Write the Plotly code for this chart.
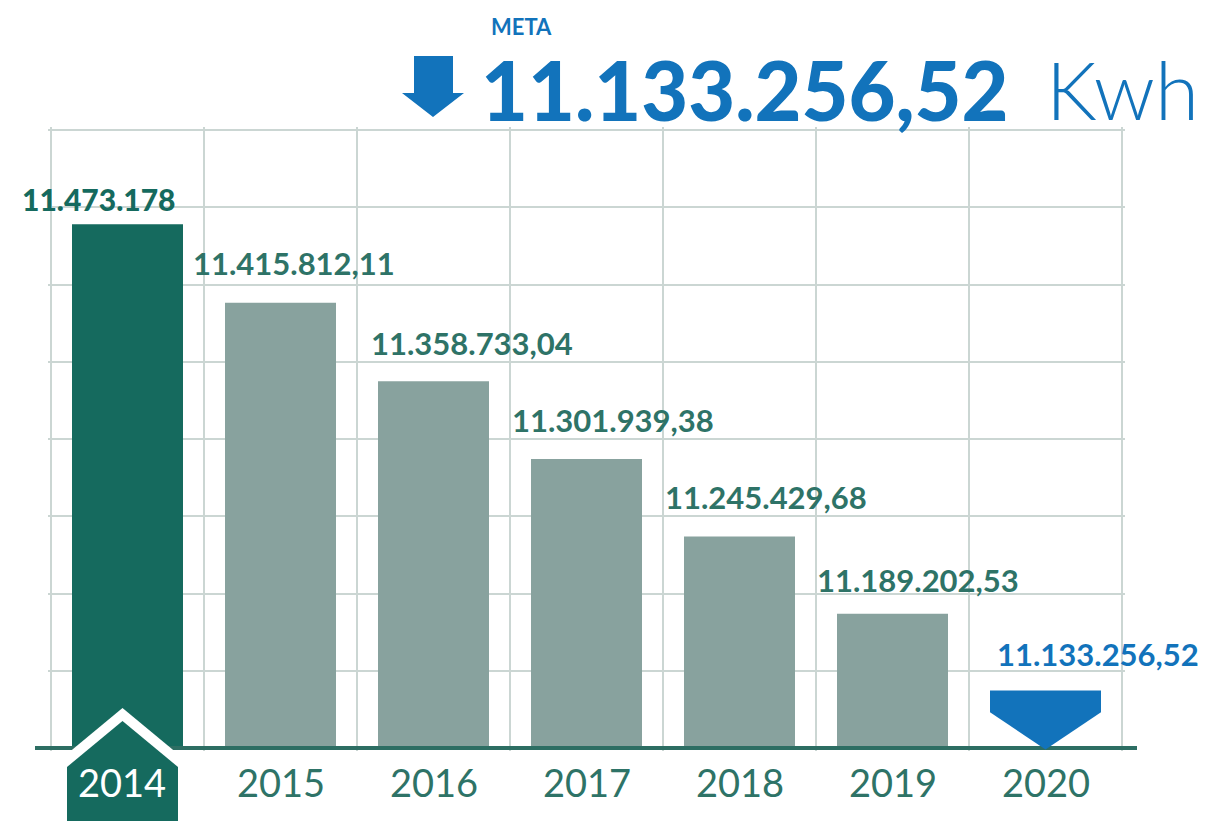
import plotly.graph_objects as go

# ---------------- data ----------------
years = ["2014", "2015", "2016", "2017", "2018", "2019", "2020"]
consumo_kwh = [11473178, 11415812.11, 11358733.04, 11301939.38,
               11245429.68, 11189202.53, 11133256.52]
meta_label = "META"
unit_label = "Kwh"

# ---------------- styles ----------------
DARK = "#156A5E"
GREY_BAR = "#88A29E"
GRID = "#CBD6D3"
BASE_LINE = "#2D6E63"
TXT = "#2E7367"
BLUE = "#1273BB"
FONT = "Lato"

W, H = 1229, 821
PAD = 3
ML, MR, MT, MB = 51 - PAD, 107 - PAD, 130 - PAD, 73 - PAD
PW, PH = W - ML - MR, H - MT - MB
Y_MIN, Y_MAX = 11091304, 11541835          # value at baseline / top gridline
U = (Y_MAX - Y_MIN) / 618                  # value per pixel
CAT_PX = (W - 51 - 107) / len(years)       # pixels per category
BAR_W = 0.7255

# label offsets (px) from bar centre to label left edge / above value
label_dx = [-108, -90, -65, -77, -77, -78, -51]
label_dy = [25, 39.5, 38, 39, 39.5, 33.5, 36.5]


def fmt(v):
    if float(v).is_integer():
        return f"{int(v):,}".replace(",", ".")
    s = f"{v:,.2f}"
    return s.replace(",", "X").replace(".", ",").replace("X", ".")


def pxx(px):  # pixel -> paper x
    return (px - ML) / PW


def pxy(py):  # pixel -> paper y
    return (H - MB - py) / PH


def xd(px):  # pixel -> data x
    return (px - 51) / CAT_PX - 0.5


n_bars = len(years) - 1
fig = go.Figure()
fig.add_trace(go.Bar(
    x=list(range(n_bars)),
    y=[v - Y_MIN for v in consumo_kwh[:n_bars]],
    base=Y_MIN,
    width=BAR_W,
    marker=dict(color=[DARK] + [GREY_BAR] * (n_bars - 1), line=dict(width=0)),
    hoverinfo="skip",
))

shapes = []
# baseline
shapes.append(dict(type="line", xref="paper", yref="y",
                   x0=pxx(35), x1=pxx(1137), y0=Y_MIN, y1=Y_MIN,
                   line=dict(color=BASE_LINE, width=4), layer="above"))
# meta 2020 marker (downward pentagon) from value to baseline
mi = len(years) - 1
mv = consumo_kwh[mi]
shoulder = mv - 0.379 * (mv - Y_MIN)
path_meta = (f"M {mi - BAR_W/2},{mv} L {mi + BAR_W/2},{mv} "
             f"L {mi + BAR_W/2},{shoulder} L {mi},{Y_MIN - 1.5*U} "
             f"L {mi - BAR_W/2},{shoulder} Z")
shapes.append(dict(type="path", xref="x", yref="y", path=path_meta,
                   fillcolor=BLUE, line=dict(width=0), layer="above"))


# 2014 house-shaped tag
def house(top, shoulder_y):
    return (f"M {xd(67)},{pxy(830)} L {xd(67)},{pxy(shoulder_y)} "
            f"L {xd(122.5)},{pxy(top)} L {xd(178)},{pxy(shoulder_y)} "
            f"L {xd(178)},{pxy(830)} Z")


shapes.append(dict(type="path", xref="x", yref="paper", path=house(708, 754),
                   fillcolor="white", line=dict(width=0), layer="above"))
shapes.append(dict(type="path", xref="x", yref="paper", path=house(721, 767),
                   fillcolor=DARK, line=dict(width=0), layer="above"))
# header arrow
arrow_pts = [(414, 56), (453, 56), (453, 93), (464, 93), (433, 117), (402, 93), (414, 93)]
arrow_path = "M " + " L ".join(f"{pxx(a)},{pxy(b)}" for a, b in arrow_pts) + " Z"
shapes.append(dict(type="path", xref="paper", yref="paper", path=arrow_path,
                   fillcolor=BLUE, line=dict(width=0), layer="above"))

annotations = []
for i, v in enumerate(consumo_kwh):
    if i == 0:
        f = dict(family=FONT, size=30, color=DARK, weight=900)
    elif i == mi:
        f = dict(family=FONT, size=31, color=BLUE, weight=700)
    else:
        f = dict(family=FONT, size=31, color=TXT, weight=700)
    annotations.append(dict(x=i, y=v, xref="x", yref="y", text=fmt(v),
                            showarrow=False, xanchor="left", yanchor="middle",
                            xshift=label_dx[i], yshift=label_dy[i], font=f))
for i, yr in enumerate(years):
    annotations.append(dict(x=i - (0.033 if i == 0 else 0), y=pxy(782), xref="x", yref="paper",
                            text=yr, showarrow=False, xanchor="center", yanchor="middle",
                            font=dict(family=FONT, size=38,
                                      color="white" if i == 0 else TXT, weight=400)))
# header
annotations.append(dict(x=pxx(489), y=pxy(26.5), xref="paper", yref="paper",
                        text=meta_label, showarrow=False, xanchor="left", yanchor="middle",
                        font=dict(family=FONT, size=22, color=BLUE, weight=700)))
annotations.append(dict(x=pxx(479), y=pxy(89), xref="paper", yref="paper",
                        text=fmt(mv), showarrow=False, xanchor="left", yanchor="middle",
                        font=dict(family=FONT, size=81, color=BLUE, weight=900)))
annotations.append(dict(x=pxx(1044), y=pxy(89), xref="paper", yref="paper",
                        text=unit_label, showarrow=False, xanchor="left", yanchor="middle",
                        font=dict(family=FONT, size=80, color=BLUE, weight=300)))

fig.update_layout(
    width=W, height=H,
    margin=dict(l=ML, r=MR, t=MT, b=MB, pad=0),
    paper_bgcolor="white", plot_bgcolor="white",
    showlegend=False,
    xaxis=dict(range=[-0.5 - PAD / CAT_PX, len(years) - 0.5 + PAD / CAT_PX],
               tickmode="array", tickvals=[k - 0.5 for k in range(len(years) + 1)],
               showticklabels=False, ticks="", showgrid=True,
               gridcolor=GRID, gridwidth=2, zeroline=False, showline=False,
               fixedrange=True),
    yaxis=dict(range=[Y_MIN - PAD * U, Y_MAX + PAD * U], tick0=Y_MIN,
               dtick=(Y_MAX - Y_MIN) / 8,
               tickmode="linear", showticklabels=False, ticks="", showgrid=True,
               gridcolor=GRID, gridwidth=2, zeroline=False, showline=False,
               fixedrange=True),
    shapes=shapes,
    annotations=annotations,
)

fig.write_html("out.html", config={"displayModeBar": False},
               post_script="document.body.style.margin='0';")
